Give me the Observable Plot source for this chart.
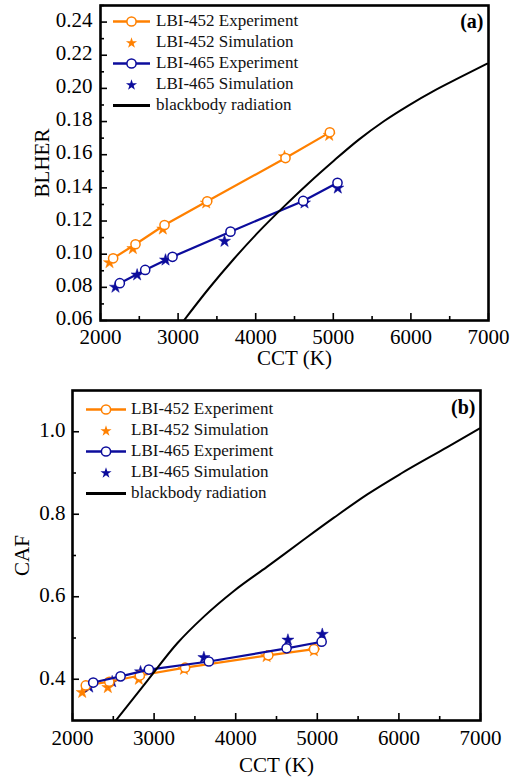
<!DOCTYPE html>
<html><head><meta charset="utf-8">
<script src="https://cdn.jsdelivr.net/npm/d3@7"></script>
<script src="https://cdn.jsdelivr.net/npm/@observablehq/plot@0.6"></script>
<style>
html,body{margin:0;padding:0;background:#fff;}
#wrap{position:relative;width:517px;height:779px;overflow:hidden;font-family:"Liberation Serif",serif;}
#wrap svg, #wrap svg text{font-family:"Liberation Serif",serif !important;}
.panel{position:absolute;left:0;}
.legend{position:absolute;font-size:17px;color:#111;font-family:"Liberation Serif",serif;}
.row{height:21px;display:flex;align-items:center;white-space:nowrap;}
.row svg{display:block;flex:none;}
</style></head><body><div id="wrap"></div>
<script>
// ---------- data ----------
const orange = "#ff8000", blue = "#0c0c9c";
const legendLabels = ["LBI-452 Experiment", "LBI-452 Simulation", "LBI-465 Experiment", "LBI-465 Simulation", "blackbody radiation"];

// panel (a): BLHER vs CCT
const cct452ExpA = [2163, 2451, 2825, 3375, 4384, 4955];
const blher452Exp = [0.0975, 0.106, 0.1176, 0.1319, 0.158, 0.1735];
const cct452SimA = [2116, 2417, 2803, 3362, 4371, 4947];
const blher452Sim = [0.0949, 0.1034, 0.1152, 0.1309, 0.1588, 0.1717];
const cct465ExpA = [2249, 2576, 2928, 3675, 4612, 5054];
const blher465Exp = [0.0825, 0.0905, 0.0984, 0.1136, 0.1321, 0.1431];
const cct465SimA = [2193, 2472, 2838, 3598, 4629, 5058];
const blher465Sim = [0.0801, 0.0875, 0.0965, 0.1078, 0.1309, 0.1399];
const bbCctA = [3074, 3396, 3718, 4040, 4363, 4685, 5007, 5329, 5651, 5973, 6296, 6618, 6983];
const bbBlher = [0.06, 0.0793, 0.0971, 0.1136, 0.1287, 0.143, 0.1564, 0.1691, 0.1802, 0.1898, 0.1985, 0.2063, 0.2149];

// panel (b): CAF vs CCT
const cct452ExpB = [2163, 2451, 2825, 3380, 4400, 4960];
const caf452Exp = [0.385, 0.394, 0.409, 0.428, 0.458, 0.473];
const cct452SimB = [2119, 2433, 2813, 3366, 4379, 4959];
const caf452Sim = [0.368, 0.380, 0.400, 0.424, 0.455, 0.469];
const cct465ExpB = [2254, 2589, 2936, 3671, 4624, 5053];
const caf465Exp = [0.392, 0.407, 0.4235, 0.443, 0.475, 0.491];
const cct465SimB = [2205, 2486, 2834, 3610, 4640, 5061];
const caf465Sim = [0.381, 0.394, 0.418, 0.4526, 0.495, 0.509];
const bbCctB = [2527, 2916, 3284, 3610, 3978, 4387, 4795, 5204, 5613, 6022, 6594, 6990];
const bbCaf = [0.299, 0.396, 0.4872, 0.5518, 0.614, 0.673, 0.7327, 0.7917, 0.8482, 0.8982, 0.9628, 1.008];

// ticks
const xMajor = [2000, 3000, 4000, 5000, 6000, 7000];
const xMinor = [2500, 3500, 4500, 5500, 6500];
const yMajorA = [0.06, 0.08, 0.10, 0.12, 0.14, 0.16, 0.18, 0.20, 0.22, 0.24];
const yMinorA = [0.07, 0.09, 0.11, 0.13, 0.15, 0.17, 0.19, 0.21, 0.23, 0.25];
const yMajorB = [0.4, 0.6, 0.8, 1.0];
const yMinorB = [0.5, 0.7, 0.9];

const FONT = '"Liberation Serif",serif';
const zip = (xs, ys) => xs.map((x, i) => ({x, y: ys[i]}));

function makePanel(cfg) {
  const s452e = zip(cfg.x452e, cfg.y452e), s452s = zip(cfg.x452s, cfg.y452s);
  const s465e = zip(cfg.x465e, cfg.y465e), s465s = zip(cfg.x465s, cfg.y465s);
  const bb = zip(cfg.xbb, cfg.ybb);
  return Plot.plot({
    width: 517, height: cfg.height,
    marginTop: cfg.mt, marginBottom: cfg.mb, marginLeft: cfg.ml, marginRight: cfg.mr,
    style: {fontFamily: FONT, fontSize: "21px", color: "#000", background: "#fff"},
    x: {domain: [2000, 7000], label: null},
    y: {domain: cfg.yDomain, label: null},
    marks: [
      Plot.axisX(xMajor, {tickSize: -7, strokeWidth: 1.6, fill: "none", label: null}),
      Plot.axisX(xMinor, {tickSize: -4, strokeWidth: 1.6, fill: "none", label: null}),
      Plot.axisX(xMajor, {tickSize: 0, tickPadding: cfg.xpad, tickFormat: d3.format("d"), fill: "#000", fontFamily: FONT, fontSize: 21, label: null}),
      Plot.axisY(cfg.yMajor, {tickSize: -7, strokeWidth: 1.6, fill: "none", label: null}),
      Plot.axisY(cfg.yMinor, {tickSize: -4, strokeWidth: 1.6, fill: "none", label: null}),
      Plot.axisY(cfg.yMajor, {tickSize: 0, tickPadding: cfg.ypad, dy: cfg.ydy, tickFormat: d3.format(cfg.yfmt), fill: "#000", fontFamily: FONT, fontSize: 21, label: null}),
      Plot.dot(s452s, {x: "x", y: "y", symbol: "star", r: 3.8, fill: orange, stroke: orange, strokeWidth: 0.5}),
      Plot.dot(s465s, {x: "x", y: "y", symbol: "star", r: 3.8, fill: blue, stroke: blue, strokeWidth: 0.5}),
      Plot.line(s452e, {x: "x", y: "y", stroke: orange, strokeWidth: 2.2}),
      Plot.dot(s452e, {x: "x", y: "y", r: 4.6, fill: "#fff", stroke: orange, strokeWidth: 1.5}),
      Plot.line(s465e, {x: "x", y: "y", stroke: blue, strokeWidth: 2.2}),
      Plot.dot(s465e, {x: "x", y: "y", r: 4.6, fill: "#fff", stroke: blue, strokeWidth: 1.5}),
      Plot.line(bb, {x: "x", y: "y", stroke: "#000", strokeWidth: 2, curve: "monotone-x", clip: true}),
      Plot.text([cfg.tag], {frameAnchor: "top-right", textAnchor: "end", lineAnchor: "middle", dx: -5, dy: cfg.tagDy, fontWeight: "bold", fontSize: 20, fontFamily: FONT, fill: "#000"}),
      Plot.text(["CCT (K)"], {frameAnchor: "bottom", textAnchor: "middle", lineAnchor: "middle", dy: cfg.xLabDy, fontSize: 21, fontFamily: FONT, fill: "#000"}),
      Plot.text([cfg.yLabel], {frameAnchor: "left", textAnchor: "middle", lineAnchor: "middle", rotate: -90, dx: cfg.yLabDx, fontSize: 21, fontFamily: FONT, fill: "#000"}),
      Plot.frame({stroke: "#000", strokeWidth: 2.6})
    ]
  });
}

function legend(left, top, lineW, gap) {
  const div = document.createElement("div");
  div.className = "legend";
  div.style.left = left + "px";
  div.style.top = top + "px";
  const starPath = d3.symbol(d3.symbolStar, Math.PI * 3.5 * 3.5)();
  const items = [
    {label: legendLabels[0], color: orange, line: true, mk: "circle"},
    {label: legendLabels[1], color: orange, line: false, mk: "star"},
    {label: legendLabels[2], color: blue, line: true, mk: "circle"},
    {label: legendLabels[3], color: blue, line: false, mk: "star"},
    {label: legendLabels[4], color: "#000", line: true, mk: null}
  ];
  for (const it of items) {
    const row = document.createElement("div");
    row.className = "row";
    const c = lineW / 2;
    let svg = `<svg width="${lineW + gap}" height="21">`;
    if (it.line) svg += `<line x1="0" x2="${lineW}" y1="10.5" y2="10.5" stroke="${it.color}" stroke-width="${it.mk ? 2.4 : 3}"/>`;
    if (it.mk === "circle") svg += `<circle cx="${c}" cy="10.5" r="4.6" fill="#fff" stroke="${it.color}" stroke-width="1.5"/>`;
    if (it.mk === "star") svg += `<path transform="translate(${c},11)" d="${starPath}" fill="${it.color}"/>`;
    svg += `</svg>`;
    row.innerHTML = svg + `<span>${it.label}</span>`;
    div.appendChild(row);
  }
  return div;
}

const wrap = document.getElementById("wrap");

const pa = makePanel({
  height: 380, mt: 5, mb: 60, ml: 100, mr: 29,
  yDomain: [0.06, 0.25], yMajor: yMajorA, yMinor: yMinorA, yfmt: ".2f", ypad: 8, ydy: -2, xpad: 9,
  x452e: cct452ExpA, y452e: blher452Exp, x452s: cct452SimA, y452s: blher452Sim,
  x465e: cct465ExpA, y465e: blher465Exp, x465s: cct465SimA, y465s: blher465Sim,
  xbb: bbCctA, ybb: bbBlher, tag: "(a)", tagDy: 16, yLabel: "BLHER", yLabDx: -58, xLabDy: 38
});
const pb = makePanel({
  height: 399, mt: 10, mb: 59, ml: 72, mr: 37,
  yDomain: [0.3, 1.1], yMajor: yMajorB, yMinor: yMinorB, yfmt: ".1f", ypad: 7, ydy: -1, xpad: 10,
  x452e: cct452ExpB, y452e: caf452Exp, x452s: cct452SimB, y452s: caf452Sim,
  x465e: cct465ExpB, y465e: caf465Exp, x465s: cct465SimB, y465s: caf465Sim,
  xbb: bbCctB, ybb: bbCaf, tag: "(b)", tagDy: 17, yLabel: "CAF", yLabDx: -50, xLabDy: 45
});
const da = document.createElement("div"); da.className = "panel"; da.style.top = "0px"; da.appendChild(pa);
const db = document.createElement("div"); db.className = "panel"; db.style.top = "380px"; db.appendChild(pb);
wrap.appendChild(da); wrap.appendChild(db);
wrap.appendChild(legend(113, 10.5, 37, 6));
wrap.appendChild(legend(86, 398.5, 40, 5));
</script>
</body></html>
